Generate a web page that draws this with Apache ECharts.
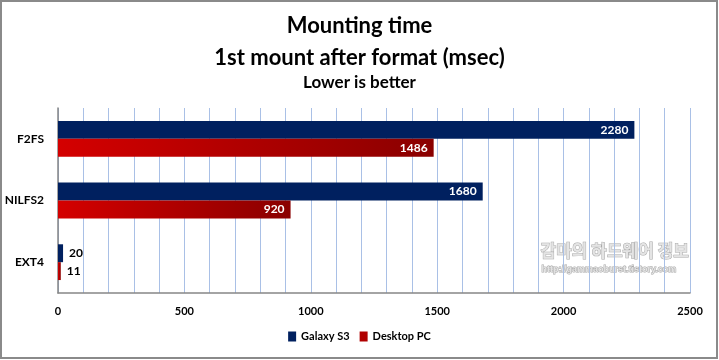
<!DOCTYPE html>
<html><head><meta charset="utf-8">
<script src="https://cdn.jsdelivr.net/npm/echarts@6/dist/echarts.min.js"></script>
<style>html,body{margin:0;padding:0;background:#fff}#c{width:719px;height:360px}</style>
</head><body><div id="c"></div>
<script>
const categories = ['EXT4', 'NILFS2', 'F2FS'];
const galaxyS3 = [20, 1680, 2280];
const desktopPC = [11, 920, 1486];
const seriesNames = ['Galaxy S3', 'Desktop PC'];
const titleLines = ['Mounting time', '1st mount after format (msec)', 'Lower is better'];

const FONT = 'Lato, "Open Sans", sans-serif';
const chart = echarts.init(document.getElementById('c'));
function lbl(v){
  return v < 200
    ? {show:true, position:'right', color:'#000', fontWeight:'bold', fontFamily:FONT, fontSize:12, distance:6}
    : {show:true, position:'insideRight', color:'#fff', fontWeight:'bold', fontFamily:FONT, fontSize:12, distance:6};
}
const redGrad = new echarts.graphic.LinearGradient(0,0,1,0,[{offset:0,color:'#d40000'},{offset:1,color:'#8a0000'}]);
chart.setOption({
  animation:false,
  backgroundColor:'#fff',
  title:[
    {text:titleLines[0], left:'center', top:10, textStyle:{fontFamily:FONT, fontWeight:'bold', fontSize:22, color:'#000'}},
    {text:titleLines[1], left:'center', top:42, textStyle:{fontFamily:FONT, fontWeight:'bold', fontSize:22, color:'#000'}},
    {text:titleLines[2], left:'center', top:69, textStyle:{fontFamily:FONT, fontWeight:'bold', fontSize:17, color:'#000'}}
  ],
  legend:{
    bottom:13, left:'center', itemWidth:8, itemHeight:10, itemGap:10,
    icon:'rect',
    textStyle:{fontFamily:FONT, fontWeight:'bold', fontSize:11, color:'#000'},
    data:[{name:seriesNames[0], itemStyle:{color:'#00205f'}},{name:seriesNames[1], itemStyle:{color:'#b00000'}}]
  },
  grid:{left:58, right:29, top:108, bottom:67, containLabel:false},
  xAxis:{
    type:'value', min:0, max:2500, interval:500,
    axisLine:{show:true, lineStyle:{color:'#868686', width:1.5}},
    axisTick:{show:false},
    axisLabel:{fontFamily:FONT, fontWeight:'bold', fontSize:11, color:'#000', margin:13, formatter:v=>String(v)},
    splitLine:{show:true, lineStyle:{color:'#a9c0e6', width:1}},
    minorTick:{show:false, splitNumber:5},
    minorSplitLine:{show:true, lineStyle:{color:'#a9c0e6', width:1}}
  },
  yAxis:{
    type:'category', data:categories,
    axisLine:{show:true, lineStyle:{color:'#868686', width:1.5}},
    axisTick:{show:false},
    axisLabel:{fontFamily:FONT, fontWeight:'bold', fontSize:12, color:'#000', margin:14},
    splitLine:{show:false}
  },
  series:[
    {name:seriesNames[0], type:'bar', barGap:'0%', barCategoryGap:'42%',
     itemStyle:{color:'#00205f'},
     data:galaxyS3.map(v=>({value:v, label:lbl(v)}))},
    {name:seriesNames[1], type:'bar', barGap:'0%', barCategoryGap:'42%',
     itemStyle:{color:redGrad},
     data:desktopPC.map(v=>({value:v, label:lbl(v)}))}
  ],
  graphic:[
    {type:'rect', shape:{x:1, y:1, width:716, height:357}, style:{fill:null, stroke:'#8a8a8a', lineWidth:2}, silent:true},
    {type:'text', left:540, top:242, style:{text:'감마의 하드웨어 정보', font:'bold 17px "Noto Sans CJK KR"', fill:'#e4e4e4', stroke:'#a8a8a8', lineWidth:1}, silent:true},
    {type:'text', left:541, top:265, style:{text:'http://gammaoburst.tistory.com', font:'bold 9px "Liberation Sans"', fill:'#e4e4e4', stroke:'#a8a8a8', lineWidth:1}, silent:true}
  ]
});
</script></body></html>
